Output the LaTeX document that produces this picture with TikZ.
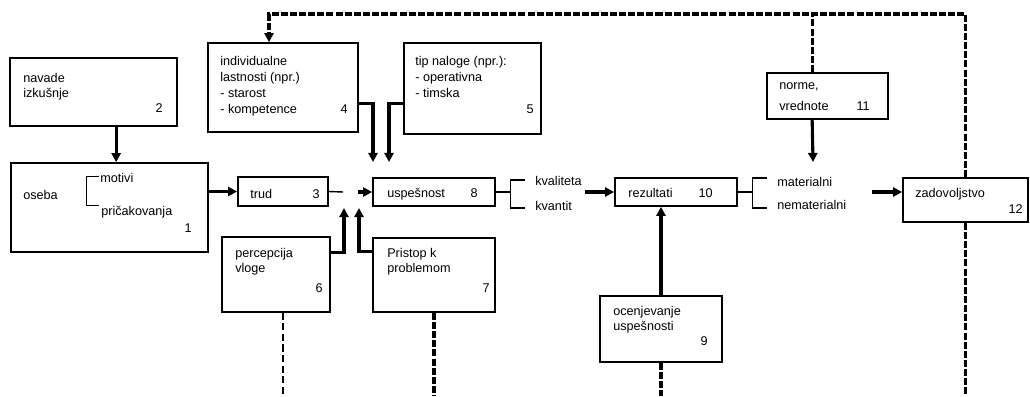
\documentclass[tikz,border=0pt]{standalone}
\usepackage{fontspec}
\setmainfont{Liberation Sans}
\usetikzlibrary{calc,fit,arrows.meta}

\begin{document}
\begin{tikzpicture}[x=0.025cm, y=-0.025cm,
    box/.style={draw, line width=1.2pt, inner sep=0pt},
    txt/.style={anchor=base west, inner sep=0pt, align=left, font=\fontsize{9}{10.6}\selectfont},
    num/.style={anchor=base east, inner sep=0pt, font=\fontsize{9}{10.6}\selectfont},
    arr/.style={line width=2.2pt, -{Triangle[length=6.5pt,width=6.5pt]}},
    brk/.style={line width=0.9pt},
    dline/.style={line width=2.2pt, dash pattern=on 5pt off 1.5pt},
    dthin/.style={line width=1pt, dash pattern=on 5pt off 2.5pt}]
    \useasboundingbox (0,0) rectangle (1030,396);

    % Boxes
        \node[box, fit={(11,163) (208,252)}] (b1) {};
        \node[box, fit={(10,58) (177,126)}] (b2) {};
        \node[box, fit={(238,177) (328,206)}] (b3) {};
        \node[box, fit={(208,43) (358,132)}] (b4) {};
        \node[box, fit={(404,43) (541,134)}] (b5) {};
        \node[box, fit={(222,237) (330,312)}] (b6) {};
        \node[box, fit={(373,238) (495,312)}] (b7) {};
        \node[box, fit={(373,178) (495,206)}] (b8) {};
        \node[box, fit={(600,296) (722,362)}] (b9) {};
        \node[box, fit={(615,178) (737,206)}] (b10) {};
        \node[box, fit={(767,73) (888,119)}] (b11) {};
        \node[box, fit={(903,178) (1028,222)}] (b12) {};

    % Texts and numbers (multi-line texts sit on their last line)
        \node[txt] (t1) at (23,199) {oseba};
        \node[txt] (t1a) at (100,182) {motivi};
        \node[txt] (t1b) at (101,215) {pričakovanja};
        \node[num] (n1) at (192,232) {1};
        \node[txt] (t2) at (23,97) {navade\\izkušnje};
        \node[num] (n2) at (163,112) {2};
        \node[txt] (t3) at (250,198) {trud};
        \node[num] (n3) at (320,198) {3};
        \node[txt, font=\fontsize{9}{11.3}\selectfont] (t4) at (220,113) {individualne\\lastnosti (npr.)\\- starost\\- kompetence};
        \node[num] (n4) at (348,113) {4};
        \node[txt, font=\fontsize{9}{11.3}\selectfont] (t5) at (415,97) {tip naloge (npr.):\\- operativna\\- timska};
        \node[num] (n5) at (534,113) {5};
        \node[txt] (t6) at (235,272) {percepcija\\vloge};
        \node[num] (n6) at (323,292) {6};
        \node[txt] (t7) at (387,272) {Pristop k\\problemom};
        \node[num] (n7) at (490,292) {7};
        \node[txt] (t8) at (387,197) {uspešnost};
        \node[num] (n8) at (478,197) {8};
        \node[txt] (t9) at (613,330) {ocenjevanje\\uspešnosti};
        \node[num] (n9) at (708,345) {9};
        \node[txt] (t10) at (628,197) {rezultati};
        \node[num] (n10) at (713,197) {10};
        \node[txt] (t11) at (779,110) {norme,\\[4pt]vrednote};
        \node[num] (n11) at (870,110) {11};
        \node[txt] (t12) at (915,197) {zadovoljstvo};
        \node[num] (n12) at (1023,213) {12};
        \node[txt] (kv1) at (535,185) {kvaliteta};
        \node[txt] (kv2) at (535,210) {kvantit};
        \node[txt] (ma1) at (777,186) {materialni};
        \node[txt] (ma2) at (777,209) {nematerialni};

    % Free ends
        \coordinate (gapL) at (343,192);
        \coordinate (gapR) at (358,192);
        \coordinate (a4) at (373,162);
        \coordinate (a5) at (389,162);
        \coordinate (a6) at (344,208);
        \coordinate (a7) at (359,208);
        \coordinate (r0) at (585,192);
        \coordinate (z0) at (872,192);
        \coordinate (m0) at (813,162);
        \coordinate (top4) at (269,14);
        \coordinate (base) at (0,396);

    % Bracket inside oseba
        \draw[brk] ($(b1.north west)+(89,14)$) -- ++(-13,0) -- ++(0,29) -- ++(13,0);

    % Main chain
        \draw[arr] ($(b2.south west)+(107,0)$) coordinate (p2) -- (p2 |- b1.north);
        \draw[arr] (b1.east |- b3.west) -- (b3.west);
        \draw[line width=1pt] (b3.east) -- (gapL);
        \draw[arr] (gapR) -- (b8.west);
        \draw[arr] ($(b4.south east)+(0,-29)$) -| (a4);
        \draw[arr] ($(b5.south west)+(0,-31)$) -| (a5);
        \draw[arr] ($(b6.north east)+(0,16)$) -| (a6);
        \draw[arr] ($(b7.north west)+(0,14)$) -| (a7);
        \draw[brk] (b8.east) -- ++(15,0) ++(14,-12) -| ++(-14,28) -- ++(14,0);
        \draw[arr] (r0) -- (b10.west);
        \draw[arr] (b9.north) -- (b9.north |- b10.south);
        \draw[brk] (b10.east) -- ++(15,0) ++(14,-14) -| ++(-14,30) -- ++(14,0);
        \draw[arr] (z0) -- (z0 -| b12.west);
        \draw[arr] ($(b11.south west)+(46,0)$) -- (m0);

    % Feedback (dashed)
        \draw[dline, -{Triangle[length=6.5pt,width=6.5pt]}] (b12.north) |- (top4) -- (top4 |- b4.north);
        \draw[dline] ($(b11.north west)+(46,0)$) coordinate (p11) -- (p11 |- top4);
        \draw[dline] (b12.south) -- (b12.south |- base);
        \draw[dthin] ($(b6.south west)+(62,0)$) coordinate (p6) -- (p6 |- base);
        \draw[dline] (b7.south) -- (b7.south |- base);
        \draw[dline] (b9.south) -- (b9.south |- base);
\end{tikzpicture}
\end{document}
